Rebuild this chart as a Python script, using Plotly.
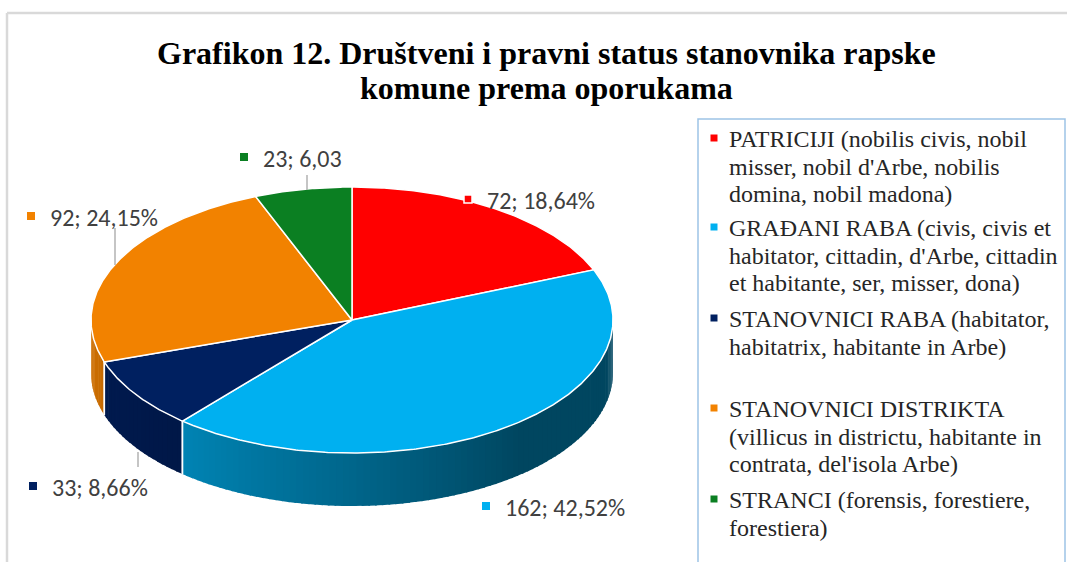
import numpy as np
import plotly.graph_objects as go

# ---------------- data ----------------
categories = [
    "PATRICIJI (nobilis civis, nobil misser, nobil d'Arbe, nobilis domina, nobil madona)",
    "GRAĐANI RABA (civis, civis et habitator, cittadin, d'Arbe, cittadin et habitante, ser, misser, dona)",
    "STANOVNICI RABA (habitator, habitatrix, habitante in Arbe)",
    "STANOVNICI DISTRIKTA (villicus in districtu, habitante in contrata, del'isola Arbe)",
    "STRANCI (forensis, forestiere, forestiera)",
]
values = [72, 162, 33, 92, 23]
pct_labels = ["18,64%", "42,52%", "8,66%", "24,15%", "6,03"]
colors = ["#FF0000", "#00B0F0", "#002060", "#F28200", "#0B7F22"]

legend_lines = [
    ["PATRICIJI (nobilis civis, nobil", "misser, nobil d'Arbe, nobilis", "domina, nobil madona)"],
    ["GRAĐANI RABA (civis, civis et", "habitator, cittadin, d'Arbe, cittadin", "et habitante, ser, misser, dona)"],
    ["STANOVNICI RABA (habitator,", "habitatrix, habitante in Arbe)"],
    ["STANOVNICI DISTRIKTA", "(villicus in districtu, habitante in", "contrata, del'isola Arbe)"],
    ["STRANCI (forensis, forestiere,", "forestiera)"],
]
title_lines = ["Grafikon 12. Društveni i pravni status stanovnika rapske", "komune prema oporukama"]

# ---------------- layout parameters ----------------
W, H = 1067, 562
CX, CY, A, B, DEPTH = 352, 320, 261, 133, 53
label_pos = [(485, 200), (503, 507), (50, 487), (48, 217), (261, 158)]
leader_lines = [None, None, ((138, 452), (138, 467)), ((115, 228), (115, 265)), ((307, 175), (307, 190))]
legend_item_y = [139, 228, 319, 409, 500]
legend_line_gap = 27.5
legend_text_x = 727
legend_marker_x = 714
title_y = [53, 88]


def hex_to_rgb(h):
    h = h.lstrip("#")
    return tuple(int(h[i:i + 2], 16) for i in (0, 2, 4))


def shade(hexc, f):
    r, g, b = hex_to_rgb(hexc)
    return "rgb(%d,%d,%d)" % (r * f, g * f, b * f)


def side_factor(theta):
    return float(np.interp(theta, [90, 140, 180, 220, 270], [0.40, 0.40, 0.58, 0.75, 0.86]))


def ell(theta, dz=0.0):
    t = np.radians(theta)
    return CX + A * np.sin(t), CY - B * np.cos(t) + dz


total = sum(values)
ends = np.cumsum(values) / total * 360.0
starts = np.concatenate([[0.0], ends[:-1]])

fig = go.Figure()

# ---------- side walls (visible front half: 90..270 deg) ----------
for i, (s, e) in enumerate(zip(starts, ends)):
    a0, a1 = max(s, 90.0), min(e, 270.0)
    if a1 <= a0:
        continue
    n = max(1, int(np.ceil((a1 - a0) / 1.5)))
    edges = np.linspace(a0, a1, n + 1)
    for k in range(n):
        t0, t1 = edges[k], min(edges[k + 1] + 0.4, a1)
        th = np.linspace(t0, t1, 6)
        xt, yt = ell(th)
        xb, yb = ell(th[::-1], DEPTH)
        fig.add_trace(go.Scatter(
            x=np.concatenate([xt, xb]), y=np.concatenate([yt, yb]),
            fill="toself", fillcolor=shade(colors[i], side_factor((t0 + t1) / 2)),
            line=dict(width=0), mode="lines", hoverinfo="skip", showlegend=False))

# vertical white edges at slice boundaries on the visible side
for b in np.concatenate([starts, ends]):
    if 90 < b < 270:
        x0, y0 = ell(b)
        x1, y1 = ell(b, DEPTH)
        fig.add_trace(go.Scatter(x=[x0, x1], y=[y0, y1], mode="lines",
                                 line=dict(color="white", width=1.5),
                                 hoverinfo="skip", showlegend=False))

# ---------- top face ----------
for i, (s, e) in enumerate(zip(starts, ends)):
    th = np.linspace(s, e, max(8, int((e - s) * 2)))
    x, y = ell(th)
    fig.add_trace(go.Scatter(
        x=np.concatenate([[CX], x, [CX]]), y=np.concatenate([[CY], y, [CY]]),
        fill="toself", fillcolor=colors[i], line=dict(color="white", width=1.5),
        mode="lines", name=categories[i], hoverinfo="name", showlegend=False))

# ---------- leader lines ----------
for ln in leader_lines:
    if ln is None:
        continue
    fig.add_trace(go.Scatter(x=[ln[0][0], ln[1][0]], y=[ln[0][1], ln[1][1]], mode="lines",
                             line=dict(color="#A6A6A6", width=1.3),
                             hoverinfo="skip", showlegend=False))

# ---------- data labels ----------
lab_font = dict(family="Carlito, Lato, sans-serif", size=24, color="#404040")
for i, (v, p) in enumerate(zip(values, pct_labels)):
    lx, ly = label_pos[i]
    fig.add_annotation(x=lx, y=ly, text=f"{v}; {p}", showarrow=False,
                       xanchor="left", yanchor="middle", font=lab_font)
    fig.add_trace(go.Scatter(x=[lx - 17], y=[ly - 1], mode="markers",
                             marker=dict(symbol="square", size=8, color=colors[i],
                                         line=dict(color="white", width=1.5 if i == 0 else 0)),
                             hoverinfo="skip", showlegend=False))

# ---------- legend (manual) ----------
leg_font = dict(family="Liberation Serif, Times New Roman, serif", size=24, color="#262626")
for i, lines in enumerate(legend_lines):
    y0 = legend_item_y[i]
    for j, txt in enumerate(lines):
        fig.add_annotation(x=legend_text_x, y=y0 + j * legend_line_gap, text=txt, showarrow=False,
                           xanchor="left", yanchor="middle", font=leg_font)
    fig.add_trace(go.Scatter(x=[legend_marker_x], y=[y0 - 1], mode="markers",
                             marker=dict(symbol="square", size=7, color=colors[i]),
                             hoverinfo="skip", showlegend=False))

fig.add_shape(type="rect", x0=698, y0=119, x1=1065, y1=575,
              line=dict(color="#9DC3E6", width=1.5), fillcolor="rgba(0,0,0,0)")

# outer chart frame (top and left visible)
fig.add_shape(type="line", x0=7, y0=13, x1=1075, y1=13, line=dict(color="#D9D9D9", width=2.5))
fig.add_shape(type="line", x0=7, y0=13, x1=7, y1=570, line=dict(color="#D9D9D9", width=2.5))

# ---------- title ----------
for txt, ty in zip(title_lines, title_y):
    fig.add_annotation(x=546, y=ty, text=txt, showarrow=False, xanchor="center", yanchor="middle",
                       font=dict(family="Liberation Serif, Times New Roman, serif", size=32,
                                 color="#000000", weight="bold"))

fig.update_layout(
    width=W, height=H, margin=dict(l=0, r=0, t=0, b=0),
    paper_bgcolor="white", plot_bgcolor="white",
    xaxis=dict(range=[0, W], visible=False, fixedrange=True),
    yaxis=dict(range=[H, 0], visible=False, fixedrange=True),
    showlegend=False,
)

fig.write_html("out.html", config={"displayModeBar": False},
               post_script="document.body.style.margin='0';document.body.style.overflow='hidden';")
